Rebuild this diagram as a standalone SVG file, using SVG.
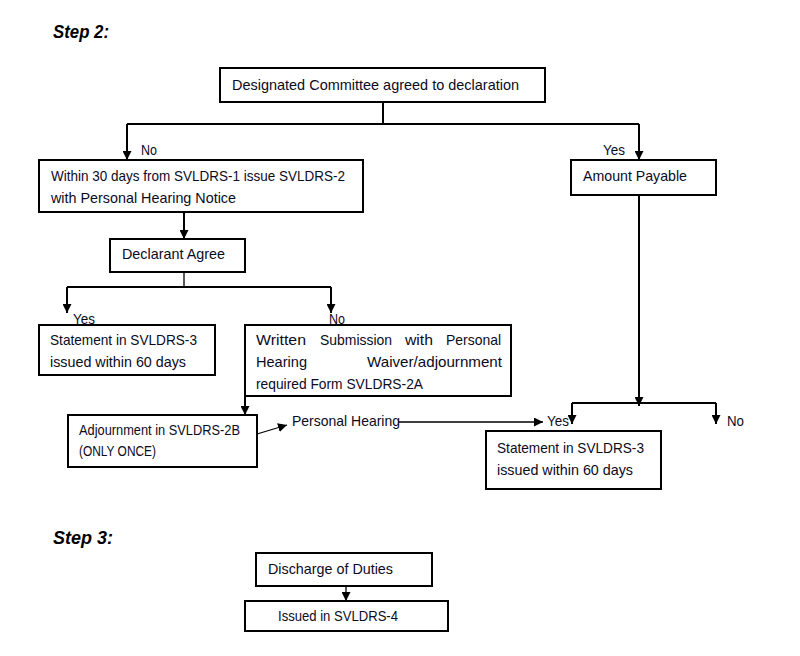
<svg xmlns="http://www.w3.org/2000/svg" width="800" height="656" viewBox="0 0 800 656">
<style>
.box{fill:#fff;stroke:#000;stroke-width:2}
.t{font-family:"Liberation Sans",Arial,sans-serif;font-size:15px;fill:#0b0b1e}
.h{font-family:"Liberation Sans",Arial,sans-serif;font-size:18px;font-weight:bold;font-style:italic;fill:#000}
.c{fill:none;stroke:#000;stroke-width:2}
.c1{fill:none;stroke:#000;stroke-width:1.3}
</style>
<defs>
<marker id="ah" viewBox="0 0 10 10" refX="10" refY="5" markerWidth="9" markerHeight="9" markerUnits="userSpaceOnUse" orient="auto">
<path d="M0,0 L10,5 L0,10 Z" fill="#000"/>
</marker>
</defs>
<rect width="800" height="656" fill="#fff"/>
<text class="h" x="53" y="38" textLength="56" lengthAdjust="spacingAndGlyphs">Step 2:</text>
<text class="h" x="53" y="544" textLength="60" lengthAdjust="spacingAndGlyphs">Step 3:</text>

<g id="connectors">
<path class="c" d="M383,102 V124"/>
<path class="c" d="M127,124 H639"/>
<path class="c" d="M127,124 V160" marker-end="url(#ah)"/>
<path class="c" d="M639,124 V160" marker-end="url(#ah)"/>
<path class="c" d="M184,212 V239" marker-end="url(#ah)"/>
<path class="c1" d="M184,272 V287"/>
<path class="c" d="M67,287 H331"/>
<path class="c" d="M67,287 V313" marker-end="url(#ah)"/>
<path class="c" d="M331,287 V313" marker-end="url(#ah)"/>
<path class="c" d="M245,396 V415" marker-end="url(#ah)"/>
<path class="c1" d="M257,434 L287,425" marker-end="url(#ah)"/>
<path class="c1" d="M398,422 H543" marker-end="url(#ah)"/>
<path class="c" d="M639,195 V406" marker-end="url(#ah)"/>
<path class="c" d="M572,403 H716"/>
<path class="c" d="M572,403 V424" marker-end="url(#ah)"/>
<path class="c" d="M716,403 V424" marker-end="url(#ah)"/>
<path class="c1" d="M346,586 V601" marker-end="url(#ah)"/>
</g>

<g id="labels">
<text class="t" x="141" y="155" textLength="16" lengthAdjust="spacingAndGlyphs">No</text>
<text class="t" x="603" y="155" textLength="22" lengthAdjust="spacingAndGlyphs">Yes</text>
<text class="t" x="73" y="324" textLength="22" lengthAdjust="spacingAndGlyphs">Yes</text>
<text class="t" x="329" y="324" textLength="16" lengthAdjust="spacingAndGlyphs">No</text>
<text class="t" x="547" y="426" textLength="22" lengthAdjust="spacingAndGlyphs">Yes</text>
<text class="t" x="727" y="426" textLength="17" lengthAdjust="spacingAndGlyphs">No</text>
<text class="t" x="292" y="426" textLength="108" lengthAdjust="spacingAndGlyphs">Personal Hearing</text>
</g>

<g id="n1">
<rect class="box" x="220" y="68" width="325" height="34"/>
<text class="t" x="232" y="90" textLength="287" lengthAdjust="spacingAndGlyphs">Designated Committee agreed to declaration</text>
</g>
<g id="n2">
<rect class="box" x="39" y="160" width="324" height="52"/>
<text class="t" x="51" y="181" textLength="294" lengthAdjust="spacingAndGlyphs">Within 30 days from SVLDRS-1 issue SVLDRS-2</text>
<text class="t" x="51" y="203" textLength="185" lengthAdjust="spacingAndGlyphs">with Personal Hearing Notice</text>
</g>
<g id="n3">
<rect class="box" x="571" y="160" width="145" height="35"/>
<text class="t" x="583" y="181" textLength="104" lengthAdjust="spacingAndGlyphs">Amount Payable</text>
</g>
<g id="n4">
<rect class="box" x="110" y="239" width="135" height="33"/>
<text class="t" x="122" y="259" textLength="103" lengthAdjust="spacingAndGlyphs">Declarant Agree</text>
</g>
<g id="n5">
<rect class="box" x="39" y="325" width="176" height="50"/>
<text class="t" x="50" y="345" textLength="147" lengthAdjust="spacingAndGlyphs">Statement in SVLDRS-3</text>
<text class="t" x="50" y="367" textLength="136" lengthAdjust="spacingAndGlyphs">issued within 60 days</text>
</g>
<g id="n6">
<rect class="box" x="245" y="325" width="266" height="71"/>
<text class="t" x="256" y="345" textLength="50" lengthAdjust="spacingAndGlyphs">Written</text>
<text class="t" x="320" y="345" textLength="72" lengthAdjust="spacingAndGlyphs">Submission</text>
<text class="t" x="405" y="345" textLength="28" lengthAdjust="spacingAndGlyphs">with</text>
<text class="t" x="446" y="345" textLength="55" lengthAdjust="spacingAndGlyphs">Personal</text>
<text class="t" x="256" y="367" textLength="51" lengthAdjust="spacingAndGlyphs">Hearing</text>
<text class="t" x="367" y="367" textLength="135" lengthAdjust="spacingAndGlyphs">Waiver/adjournment</text>
<text class="t" x="256" y="389" textLength="167" lengthAdjust="spacingAndGlyphs">required Form SVLDRS-2A</text>
</g>
<g id="n7">
<rect class="box" x="68" y="415" width="189" height="52"/>
<text class="t" x="79" y="435" textLength="161" lengthAdjust="spacingAndGlyphs">Adjournment in SVLDRS-2B</text>
<text class="t" x="79" y="456" textLength="77" lengthAdjust="spacingAndGlyphs">(ONLY ONCE)</text>
</g>
<g id="n8">
<rect class="box" x="486" y="431" width="175" height="58"/>
<text class="t" x="497" y="453" textLength="147" lengthAdjust="spacingAndGlyphs">Statement in SVLDRS-3</text>
<text class="t" x="497" y="475" textLength="136" lengthAdjust="spacingAndGlyphs">issued within 60 days</text>
</g>
<g id="n9">
<rect class="box" x="256" y="553" width="176" height="33"/>
<text class="t" x="268" y="574" textLength="125" lengthAdjust="spacingAndGlyphs">Discharge of Duties</text>
</g>
<g id="n10">
<rect class="box" x="245" y="601" width="203" height="30"/>
<text class="t" x="278" y="621" textLength="120" lengthAdjust="spacingAndGlyphs">Issued in SVLDRS-4</text>
</g>
</svg>
